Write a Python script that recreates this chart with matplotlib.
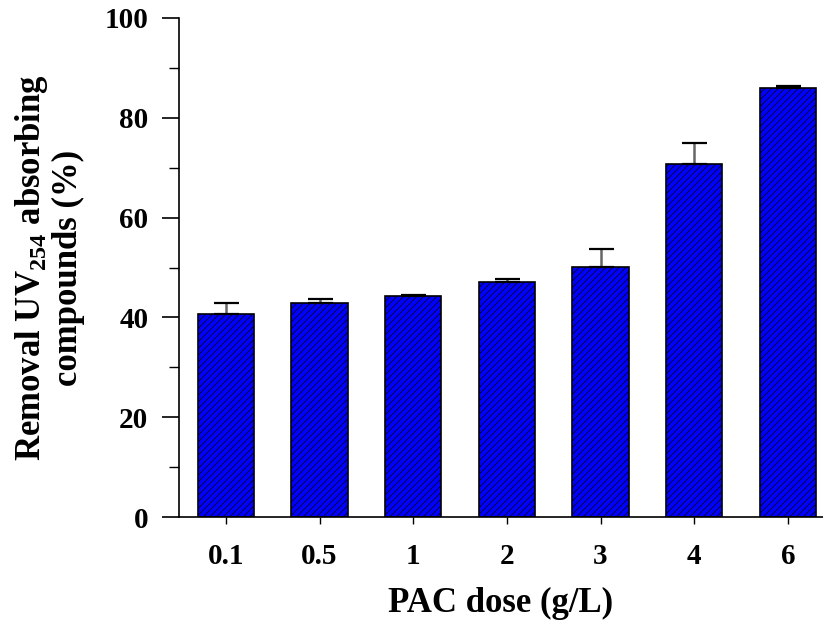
import matplotlib
matplotlib.use("Agg")
import matplotlib.pyplot as plt

# dados
doses = ["0.1", "0.5", "1", "2", "3", "4", "6"]
removal = [40.6, 42.9, 44.3, 47.1, 50.2, 70.7, 85.9]
erro = [2.2, 0.8, 0.15, 0.6, 3.6, 4.2, 0.5]

plt.rcParams["font.family"] = "Liberation Serif"
plt.rcParams["font.weight"] = "bold"
plt.rcParams["mathtext.fontset"] = "custom"
plt.rcParams["mathtext.rm"] = "Liberation Serif:bold"
plt.rcParams["mathtext.bf"] = "Liberation Serif:bold"
plt.rcParams["hatch.linewidth"] = 0.5
plt.rcParams["hatch.color"] = "#000033"

fig = plt.figure(figsize=(8.23, 6.21), dpi=100)
ax = fig.add_axes([179 / 823, 1 - 517 / 621, 1 - 179 / 823, (517 - 18) / 621])

x = list(range(len(doses)))
ax.bar(x, removal, width=0.6, color="#0000ff", edgecolor="black", linewidth=1.2,
       hatch="/////", zorder=2)
eb = ax.errorbar(x, removal, yerr=[[0] * len(erro), erro], fmt="none", ecolor="#666666",
                 elinewidth=1.8, capsize=9, capthick=1.6, zorder=3)
for cap in eb[1]:
    cap.set_markeredgecolor("black")

ax.set_xlim(-0.5, 6.375)
ax.set_ylim(0, 100)
ax.set_xticks(x)
ax.set_xticklabels(doses)
ax.set_yticks([0, 20, 40, 60, 80, 100])
ax.set_yticks([10, 30, 50, 70, 90], minor=True)
ax.spines["top"].set_visible(False)
ax.spines["right"].set_visible(False)
ax.spines["left"].set_linewidth(1.2)
ax.spines["bottom"].set_linewidth(1.2)
ax.tick_params(axis="y", which="major", length=12, width=1.2, labelsize=21, pad=10)
ax.tick_params(axis="y", which="minor", length=7, width=1.0)
ax.tick_params(axis="x", length=5, width=1.0, labelsize=21, pad=14)

ax.set_xlabel("PAC dose (g/L)", fontsize=25, fontweight="bold", labelpad=12)
ax.set_ylabel("Removal UV$_{254}$ absorbing\ncompounds (%)", fontsize=25,
              fontweight="bold", labelpad=14, linespacing=1.1)

fig.savefig("out.png", dpi=100)
